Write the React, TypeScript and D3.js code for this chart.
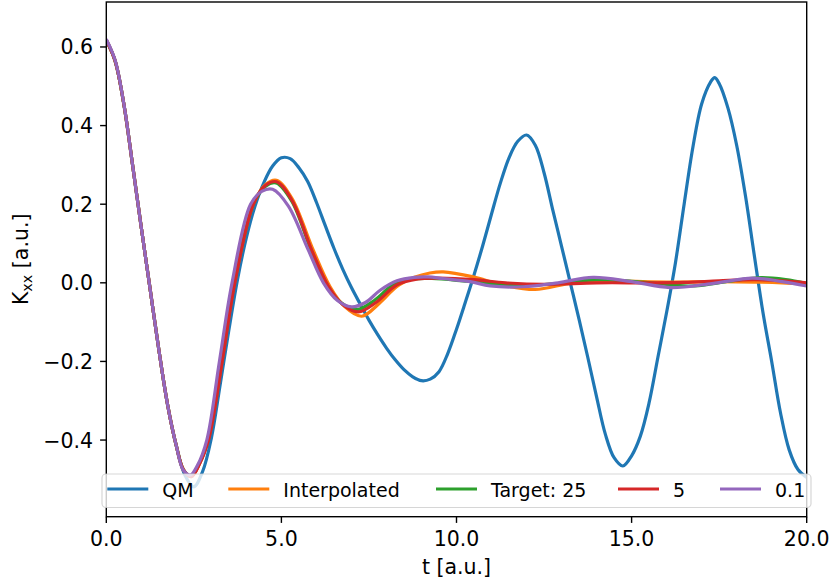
import React from 'react';
import * as d3 from 'd3';

// QM reference trajectory, sampled every 0.25 a.u. (plus the top of the last peak)
const qmT = [
  0, 0.25, 0.5, 0.75, 1, 1.25, 1.5, 1.75, 2, 2.25, 2.5, 2.75, 3, 3.25, 3.5, 3.75, 4, 4.25, 4.5, 4.75,
  5, 5.25, 5.5, 5.75, 6, 6.25, 6.5, 6.75, 7, 7.25, 7.5, 7.75, 8, 8.25, 8.5, 8.75, 9, 9.25, 9.5, 9.75,
  10, 10.25, 10.5, 10.75, 11, 11.25, 11.5, 11.75, 12, 12.25, 12.5, 12.75, 13, 13.25, 13.5, 13.75, 14, 14.25, 14.5, 14.75,
  15, 15.25, 15.5, 15.75, 16, 16.25, 16.5, 16.75, 17, 17.25, 17.375, 17.5, 17.75, 18, 18.25, 18.5, 18.75, 19, 19.25, 19.5, 19.75, 20,
];
const qmK = [
  0.617, 0.565, 0.455, 0.3, 0.14, -0.015, -0.17, -0.31, -0.415, -0.49, -0.519, -0.48, -0.395, -0.26, -0.12, 0.01, 0.115, 0.196, 0.255, 0.297,
  0.318, 0.316, 0.293, 0.258, 0.205, 0.146, 0.088, 0.035, -0.012, -0.054, -0.095, -0.132, -0.166, -0.196, -0.221, -0.239, -0.249, -0.245, -0.226, -0.18,
  -0.118, -0.05, 0.02, 0.095, 0.175, 0.253, 0.318, 0.36, 0.376, 0.35, 0.28, 0.185, 0.093, 0.0, -0.093, -0.19, -0.29, -0.385, -0.445, -0.466,
  -0.44, -0.39, -0.305, -0.19, -0.075, 0.05, 0.2, 0.345, 0.455, 0.51, 0.522, 0.507, 0.445, 0.35, 0.222, 0.072, -0.075, -0.2, -0.33, -0.425, -0.475, -0.495,
];

// Model trajectories (knots in t, a.u.)
const interpT = [0, 0.25, 0.5, 0.75, 1, 1.25, 1.5, 1.75, 2, 2.2, 2.42, 2.65, 2.92, 3.3, 3.66, 4.2, 4.55, 4.86, 5.3, 5.91, 6.39, 6.8, 7.29, 7.8, 8.29, 8.8, 9.24, 9.62, 10.48, 11.3, 12.24, 13.34, 14.5, 16.0, 17.5, 18.5, 19.3, 20.0];
const interpK = [0.617, 0.565, 0.455, 0.3, 0.14, -0.015, -0.17, -0.31, -0.415, -0.475, -0.493, -0.462, -0.395, -0.2, 0.0, 0.2, 0.25, 0.261, 0.215, 0.083, -0.01, -0.06, -0.085, -0.052, -0.01, 0.014, 0.025, 0.028, 0.015, -0.005, -0.017, 0.0, 0.004, 0.002, 0.003, 0.002, 0.0, -0.003];

const target25T = [0, 0.25, 0.5, 0.75, 1, 1.25, 1.5, 1.75, 2, 2.2, 2.42, 2.65, 2.92, 3.3, 3.66, 4.2, 4.55, 4.85, 5.3, 5.86, 6.33, 6.7, 7.15, 7.65, 8.2, 8.8, 9.3, 10.3, 11.2, 12.0, 13.0, 14.0, 15.0, 16.0, 16.8, 17.8, 18.7, 19.4, 20.0];
const target25K = [0.617, 0.565, 0.455, 0.3, 0.14, -0.015, -0.17, -0.31, -0.415, -0.475, -0.492, -0.461, -0.396, -0.2, 0.0, 0.2, 0.246, 0.254, 0.207, 0.08, -0.01, -0.05, -0.068, -0.045, -0.005, 0.01, 0.011, 0.004, -0.003, -0.006, -0.001, 0.008, 0.004, -0.004, -0.008, 0.004, 0.013, 0.008, -0.002];

const target5T = [0, 0.25, 0.5, 0.75, 1, 1.25, 1.5, 1.75, 2, 2.2, 2.43, 2.66, 2.93, 3.31, 3.67, 4.2, 4.55, 4.86, 5.3, 5.88, 6.35, 6.75, 7.2, 7.7, 8.3, 8.9, 9.5, 10.5, 11.4, 12.5, 14.0, 15.5, 16.5, 17.5, 18.5, 19.3, 20.0];
const target5K = [0.617, 0.565, 0.455, 0.3, 0.14, -0.015, -0.17, -0.31, -0.415, -0.475, -0.493, -0.461, -0.396, -0.2, 0.0, 0.2, 0.248, 0.257, 0.21, 0.08, -0.01, -0.055, -0.074, -0.05, -0.005, 0.01, 0.012, 0.008, 0.0, -0.004, 0.0, 0.0, 0.001, 0.005, 0.008, 0.005, 0.0];

const target01T = [0, 0.25, 0.5, 0.75, 1, 1.25, 1.5, 1.75, 2, 2.2, 2.4, 2.6, 2.87, 3.23, 3.59, 4.12, 4.45, 4.75, 5.2, 5.77, 6.2, 6.6, 7.0, 7.4, 7.82, 8.3, 8.8, 9.2, 9.6, 10.39, 10.96, 11.9, 12.9, 13.9, 15.0, 16.1, 17.3, 18.45, 19.3, 20.0];
const target01K = [0.62, 0.567, 0.456, 0.3, 0.14, -0.015, -0.17, -0.31, -0.415, -0.477, -0.489, -0.465, -0.4, -0.2, 0.0, 0.2, 0.233, 0.238, 0.195, 0.083, 0.0, -0.045, -0.061, -0.05, -0.019, 0.005, 0.014, 0.015, 0.011, 0.003, -0.008, -0.01, 0.0, 0.014, 0.003, -0.012, -0.002, 0.012, 0.003, -0.008];

const seriesLabels = ['QM', 'Interpolated', 'Target: 25', '5', '0.1'];
const seriesColors = ['#1f77b4', '#ff7f0e', '#2ca02c', '#d62728', '#9467bd'];
const seriesTimes = [qmT, interpT, target25T, target5T, target01T];
const seriesValues = [qmK, interpK, target25K, target5K, target01K];

const xTicks = [0, 5, 10, 15, 20];
const yTicks = [-0.4, -0.2, 0.0, 0.2, 0.4, 0.6];

const W = 832;
const H = 583;
const box = { left: 106.3, right: 806.7, top: 2, bottom: 516.7 };
const FONT = 'DejaVu Sans, sans-serif';
const tickFont = 20.5;
const legendFont = 19;
const lineW = 3.2;

// legend column starts (handle left edge), handle length, text offset
const legendStarts = [107.3, 228.3, 436, 618, 720];
const handleLen = 41;
const textOffset = 55;

const fmt = (v: number) => {
  const s = Math.abs(v).toFixed(1);
  return v < -1e-9 ? '\u2212' + s : s;
};

export default function App() {
  const x = d3.scaleLinear().domain([0, 20]).range([box.left, box.right]);
  const y = d3.scaleLinear().domain([-0.595, 0.7144]).range([box.bottom, box.top]);
  const line = d3
    .line<[number, number]>()
    .x((d) => x(d[0]))
    .y((d) => y(d[1]))
    .curve(d3.curveCatmullRom.alpha(0.5));

  const paths = seriesTimes.map((ts, i) =>
    line(ts.map((t, j) => [t, seriesValues[i][j]] as [number, number]))
  );

  const midX = (box.left + box.right) / 2;
  const midY = (box.top + box.bottom) / 2;

  return (
    <svg
      width={W}
      height={H}
      style={{ position: 'absolute', left: 0, top: 0, background: '#fff' }}
      fontFamily={FONT}
    >
      <rect x={0} y={0} width={W} height={H} fill="#fff" />
      <defs>
        <clipPath id="plotClip">
          <rect x={box.left} y={box.top} width={box.right - box.left} height={box.bottom - box.top} />
        </clipPath>
      </defs>

      <g clipPath="url(#plotClip)">
        {paths.map((p, i) => (
          <path
            key={seriesLabels[i]}
            d={p || ''}
            fill="none"
            stroke={seriesColors[i]}
            strokeWidth={lineW}
            strokeLinejoin="round"
            strokeLinecap="butt"
          />
        ))}
      </g>

      {/* frame */}
      <rect
        x={box.left}
        y={box.top}
        width={box.right - box.left}
        height={box.bottom - box.top}
        fill="none"
        stroke="#000"
        strokeWidth={1.4}
      />

      {/* x axis */}
      {xTicks.map((t) => (
        <g key={'x' + t}>
          <line x1={x(t)} x2={x(t)} y1={box.bottom} y2={box.bottom + 6.2} stroke="#000" strokeWidth={1.4} />
          <text x={x(t)} y={545.7} fontSize={tickFont} textAnchor="middle" fill="#000">
            {fmt(t)}
          </text>
        </g>
      ))}
      <text x={midX} y={574} fontSize={tickFont} textAnchor="middle" fill="#000">
        t [a.u.]
      </text>

      {/* y axis */}
      {yTicks.map((v) => (
        <g key={'y' + v}>
          <line x1={box.left - 6.2} x2={box.left} y1={y(v)} y2={y(v)} stroke="#000" strokeWidth={1.4} />
          <text x={93} y={y(v) + 7.5} fontSize={tickFont} textAnchor="end" fill="#000">
            {fmt(v)}
          </text>
        </g>
      ))}
      <text
        transform={`translate(28,${midY}) rotate(-90)`}
        fontSize={tickFont}
        textAnchor="middle"
        fill="#000"
      >
        K
        <tspan fontSize={tickFont * 0.7} dy={4}>
          xx
        </tspan>
        <tspan dy={-4}> [a.u.]</tspan>
      </text>

      {/* legend */}
      <g>
        <rect
          x={102}
          y={474}
          width={709}
          height={33.5}
          rx={4}
          ry={4}
          fill="#fff"
          fillOpacity={0.8}
          stroke="#cccccc"
          strokeOpacity={0.8}
          strokeWidth={1.2}
        />
        {seriesLabels.map((lab, i) => (
          <g key={'leg' + lab}>
            <line
              x1={legendStarts[i]}
              x2={legendStarts[i] + handleLen}
              y1={489}
              y2={489}
              stroke={seriesColors[i]}
              strokeWidth={lineW}
            />
            <text x={legendStarts[i] + textOffset} y={496.5} fontSize={legendFont} fill="#000">
              {lab}
            </text>
          </g>
        ))}
      </g>
    </svg>
  );
}
